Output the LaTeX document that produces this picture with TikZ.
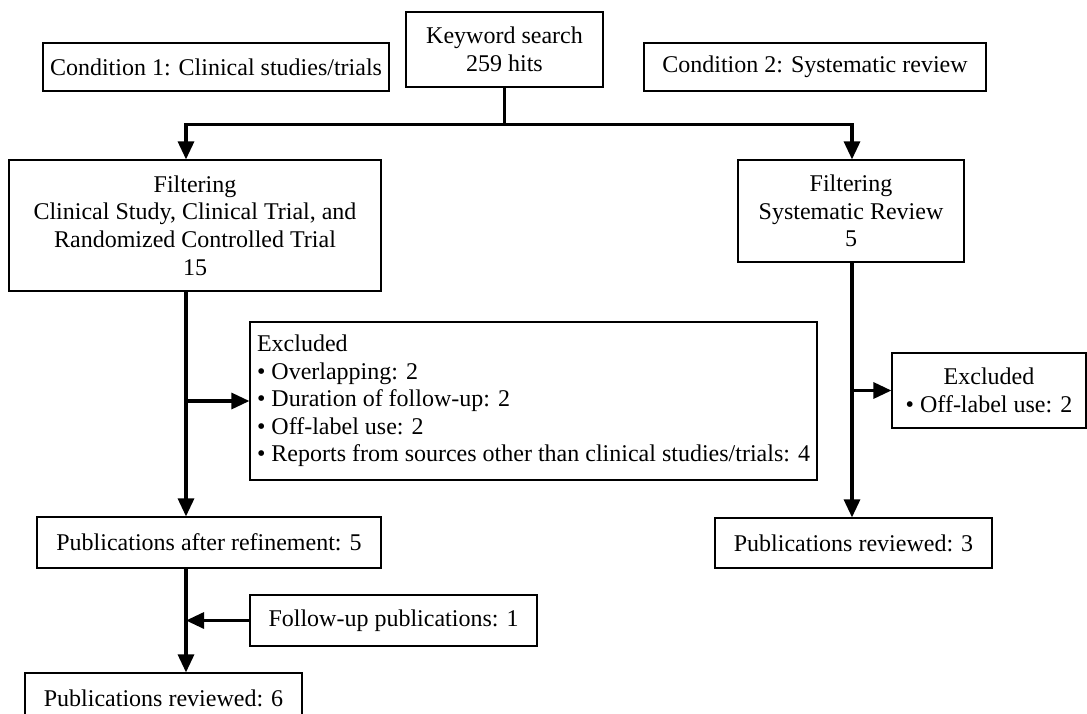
\documentclass[tikz,border=0pt]{standalone}
\usepackage{fontspec}
\setmainfont{Liberation Serif}
\usetikzlibrary{arrows.meta}

\begin{document}
\begin{tikzpicture}[x=0.5pt, y=-0.5pt,
    box/.style={draw, line width=0.6pt, inner sep=0pt, align=center,
      font=\fontsize{12}{13.8}\selectfont},
    flow/.style={line width=1.6pt, -{Triangle[length=9pt,width=8pt]}}]
  \useasboundingbox (0,0) rectangle (1087,713);
  \coordinate (colL) at (186,0);
  \coordinate (colR) at (852,0);
  % top row
  \node[box, minimum width=173pt, minimum height=24pt] (cond1) at (216,67) {Condition 1: Clinical studies/trials};
  \node[box, minimum width=98.5pt, minimum height=37.5pt] (kw) at (504.5,49.5) {Keyword search\\259 hits};
  \node[box, minimum width=171pt, minimum height=24pt] (cond2) at (815,67) {Condition 2: Systematic review};
  % filtering
  \node[box, minimum width=186pt, minimum height=65.5pt] (filt1) at (195,225.5) {Filtering\\Clinical Study, Clinical Trial, and\\Randomized Controlled Trial\\15};
  \node[box, minimum width=113pt, minimum height=51pt] (filt2) at (851,211) {Filtering\\Systematic Review\\5};
  % exclusions
  \node[box, align=left, minimum width=283.5pt, minimum height=79pt] (exc1) at (533.5,401) {Excluded\\• Overlapping: 2\\• Duration of follow-up: 2\\• Off-label use: 2\\• Reports from sources other than clinical studies/trials: 4};
  \node[box, minimum width=97pt, minimum height=37.5pt] (exc2) at (989,390.5) {Excluded\\• Off-label use: 2};
  % results
  \node[box, minimum width=172pt, minimum height=25.5pt] (refined) at (209,542.5) {Publications after refinement: 5};
  \node[box, minimum width=138.5pt, minimum height=25pt] (rev3) at (853.5,543) {Publications reviewed: 3};
  \node[box, minimum width=143.5pt, minimum height=25.5pt] (follow) at (393.5,620.5) {Follow-up publications: 1};
  \node[box, minimum width=138.5pt, minimum height=25pt] (rev6) at (163.5,698) {Publications reviewed: 6};
  % connectors
  \draw[line width=1.6pt] (kw.south) -- ++(0,37) coordinate (split);
  \draw[flow] (split) -| (filt1.north -| colL);
  \draw[flow] (split) -| (filt2.north -| colR);
  \draw[flow] (filt1.south -| colL) -- (refined.north -| colL);
  \draw[flow] (exc1.west -| colL) -- (exc1.west);
  \draw[flow] (refined.south -| colL) -- (rev6.north -| colL);
  \draw[flow] (follow.west) -- (follow.west -| colL);
  \draw[flow] (filt2.south -| colR) -- (rev3.north -| colR);
  \draw[flow] (exc2.west -| colR) -- (exc2.west);
\end{tikzpicture}
\end{document}
